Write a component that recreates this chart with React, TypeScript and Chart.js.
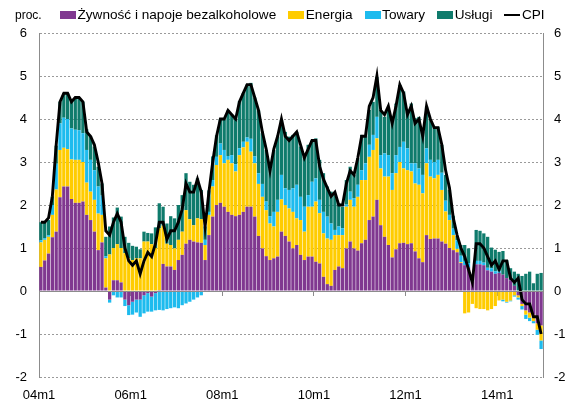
import { useEffect, useRef } from 'react';
import { Chart, registerables } from 'chart.js';

Chart.register(...registerables);

const FONT = '"Liberation Sans", Arial, sans-serif';

const MONTHS: string[] = [];
for (let y = 4; y <= 14; y++) {
  for (let m = 1; m <= 12; m++) MONTHS.push(`${String(y).padStart(2, '0')}m${m}`);
}

const SERIES_NAMES = ['Żywność i napoje bezalkoholowe', 'Energia', 'Towary', 'Usługi', 'CPI'];
const SERIES_COLORS = ['#803890', '#FFCC00', '#1DBBEE', '#0F7B6C', '#000000'];

const FOOD = [
  0.56, 0.71, 0.87, 1.25, 1.38, 2.18, 2.43, 2.43, 2.14, 2.05, 2.05, 2.08,
  1.77, 1.65, 1.38, 0.95, 1.13, 0.08, -0.2, 0.25, 0.25, 0.2, -0.2, -0.33,
  -0.25, -0.2, -0.2, -0.1, -0.05, -0.13, -0.05, 0.02, 0.63, 0.57, 0.57, 0.49,
  0.72, 0.84, 1.1, 1.19, 1.15, 1.13, 1.12, 0.72, 1.3, 1.73, 2.0, 2.05,
  1.96, 1.84, 1.77, 1.74, 1.77, 1.84, 1.96, 1.96, 1.73, 1.28, 0.99, 0.81,
  0.72, 0.76, 0.8, 1.38, 1.28, 1.15, 0.99, 1.07, 0.84, 0.72, 0.8, 0.8,
  0.68, 0.64, 0.33, 0.16, 0.12, 0.49, 0.57, 0.53, 0.99, 1.15, 0.99, 0.94,
  1.11, 1.19, 1.65, 1.73, 2.12, 1.53, 1.26, 1.07, 0.78, 0.97, 1.11, 1.12,
  1.09, 1.11, 0.92, 0.76, 0.67, 1.3, 1.21, 1.22, 1.22, 1.15, 1.1, 1.0,
  0.95, 0.9, 0.65, 0.6, 0.55, 0.22, 0.62, 0.62, 0.6, 0.48, 0.45, 0.4,
  0.42, 0.38, 0.3, 0.25, 0.12, -0.1, -0.3, -0.45, -0.5, -0.55, -0.75, -0.8,
];

const ENERGY = [
  0.57, 0.48, 0.39, 0.52, 0.98, 1.1, 0.9, 0.87, 0.92, 1.0, 1.0, 0.92,
  0.75, 0.66, 0.74, 0.85, 0.64, 0.68, 0.85, 0.75, 0.84, 0.8, 0.88, 0.76,
  0.72, 0.76, 0.76, 1.15, 1.15, 1.09, 1.0, 1.44, 0.89, 0.53, 0.5, 0.5,
  0.47, 0.54, 0.78, 0.48, 0.38, 0.56, 0.55, 0.35, 0.47, 0.7, 0.93, 1.11,
  1.01, 1.21, 1.2, 1.04, 1.39, 1.5, 1.51, 1.28, 1.24, 1.21, 1.2, 1.07,
  0.85, 0.74, 1.04, 0.75, 0.72, 0.77, 0.85, 0.62, 0.81, 0.66, 1.16, 1.16,
  1.4, 1.17, 1.01, 1.06, 1.07, 0.81, 0.73, 0.77, 0.97, 0.97, 0.97, 1.25,
  1.47, 1.39, 1.47, 1.55, 1.43, 1.32, 1.4, 1.59, 1.57, 1.77, 1.89, 1.73,
  1.72, 1.67, 1.58, 1.71, 1.6, 1.67, 1.45, 1.4, 1.48, 1.2, 0.75, 0.65,
  0.35, 0.08, 0.02, -0.52, -0.5, -0.3, -0.4, -0.42, -0.42, -0.45, -0.42, -0.35,
  -0.22, -0.2, -0.25, -0.22, -0.1, -0.05, -0.05, -0.1, -0.12, -0.15, -0.15, -0.35,
];

const GOODS = [
  0.05, 0.04, 0.04, 0.23, 0.6, 0.62, 0.7, 0.7, 0.72, 0.7, 0.69, 0.67,
  0.76, 0.74, 0.69, 0.63, 0.45, 0.05, -0.07, -0.1, -0.15, -0.15, -0.15, -0.23,
  -0.3, -0.3, -0.4, -0.42, -0.43, -0.35, -0.4, -0.44, -0.45, -0.42, -0.4, -0.38,
  -0.4, -0.33, -0.29, -0.25, -0.2, -0.15, -0.1, 0.12, 0.07, 0.15, 0.19, 0.27,
  0.31, 0.09, 0.19, 0.17, 0.16, 0.13, 0.1, 0.3, 0.16, 0.25, 0.3, 0.2,
  0.17, 0.34, 0.28, 0.57, 0.39, 0.43, 0.55, 0.78, 0.54, 0.58, 0.27, 0.58,
  0.54, 0.31, 0.5, 0.51, 0.38, 0.12, 0.2, 0.16, 0.05, 0.19, 0.2, 0.28,
  0.23, 0.39, 0.28, 0.35, 0.5, 0.31, 0.54, 0.5, 0.39, 0.42, 0.35, 0.62,
  0.51, 0.19, 0.47, 0.38, 0.43, 0.35, 0.39, 0.38, 0.35, 0.4, 0.25, 0.12,
  0.15, 0.2, 0.15, 0.1, 0.1, 0.05, 0.08, 0.08, 0.06, 0.06, 0.08, 0.06,
  0.04, -0.04, -0.02, -0.02, -0.03, -0.05, -0.08, -0.1, -0.08, -0.05, -0.12, -0.2,
];

const SERVICES = [
  0.42, 0.37, 0.35, 0.2, 0.42, 0.5, 0.57, 0.6, 0.62, 0.74, 0.74, 0.73,
  0.48, 0.55, 0.55, 0.46, 0.28, 0.45, 0.65, 0.71, 0.85, 0.73, 0.38, 0.36,
  0.33, 0.27, 0.21, 0.23, 0.2, 0.25, 0.48, 0.58, 0.44, 0.47, 0.67, 0.7,
  0.81, 0.85, 0.86, 0.87, 0.94, 0.93, 0.68, 0.31, 0.5, 0.55, 0.5, 0.57,
  0.7, 1.06, 0.94, 1.05, 1.1, 1.13, 1.23, 1.3, 1.37, 1.46, 1.18, 1.2,
  1.11, 1.44, 1.47, 1.28, 1.31, 1.24, 1.24, 1.23, 1.17, 1.16, 1.17, 0.96,
  0.93, 0.93, 0.9, 0.7, 0.74, 0.81, 0.54, 0.5, 0.57, 0.58, 0.54, 0.62,
  0.82, 0.63, 0.81, 0.77, 0.93, 1.05, 0.85, 1.05, 1.24, 1.2, 1.44, 1.17,
  0.85, 1.39, 1.05, 1.2, 1.0, 0.97, 0.93, 0.82, 0.77, 0.65, 0.6, 0.58,
  0.3, 0.1, 0.25, 0.37, 0.34, 0.05, 0.72, 0.7, 0.68, 0.72, 0.48, 0.5,
  0.45, 0.55, 0.42, 0.28, 0.33, 0.4, 0.35, 0.4, 0.45, 0.18, 0.4, 0.42,
];

const CPI = [
  1.6, 1.6, 1.7, 2.2, 3.4, 4.4, 4.6, 4.6, 4.4, 4.5, 4.5, 4.4,
  3.7, 3.6, 3.4, 3.0, 2.5, 1.4, 1.3, 1.6, 1.8, 1.6, 1.0, 0.7,
  0.6, 0.7, 0.4, 0.7, 0.9, 0.8, 1.1, 1.6, 1.6, 1.2, 1.4, 1.4,
  1.6, 1.9, 2.5, 2.3, 2.3, 2.6, 2.3, 1.5, 2.3, 3.0, 3.6, 4.0,
  4.0, 4.2, 4.1, 4.0, 4.4, 4.6, 4.8, 4.8, 4.5, 4.2, 3.7, 3.3,
  2.8, 3.3, 3.6, 4.0, 3.6, 3.5, 3.6, 3.7, 3.4, 3.1, 3.3, 3.5,
  3.5, 2.9, 2.6, 2.4, 2.2, 2.3, 2.0, 2.0, 2.5, 2.8, 2.7, 3.1,
  3.6, 3.6, 4.3, 4.5, 5.0, 4.2, 4.1, 4.3, 3.9, 4.3, 4.8, 4.6,
  4.1, 4.3, 3.9, 4.0, 3.6, 4.3, 4.0, 3.8, 3.8, 3.4, 2.8, 2.4,
  1.7, 1.3, 1.0, 0.8, 0.5, 0.2, 1.1, 1.1, 1.0, 0.8, 0.6, 0.7,
  0.5, 0.7, 0.7, 0.3, 0.2, 0.3, -0.2, -0.3, -0.3, -0.6, -0.6, -1.0,
];

const Y_MIN = -2;
const Y_MAX = 6;
const LABEL_EVERY = 24;

export default function App() {
  const ref = useRef<HTMLCanvasElement | null>(null);

  useEffect(() => {
    if (!ref.current) return;
    const barSeries = [FOOD, ENERGY, GOODS, SERVICES];
    const chart = new Chart(ref.current, {
      type: 'bar',
      data: {
        labels: MONTHS,
        datasets: [
          ...barSeries.map((arr, i) => ({
            type: 'bar' as const,
            label: SERIES_NAMES[i],
            data: arr,
            backgroundColor: SERIES_COLORS[i],
            borderWidth: 0,
            barPercentage: 1,
            categoryPercentage: 0.86,
            order: 1,
            xAxisID: 'x',
            yAxisID: 'y',
          })),
          {
            type: 'line' as const,
            label: SERIES_NAMES[4],
            data: CPI,
            borderColor: SERIES_COLORS[4],
            backgroundColor: SERIES_COLORS[4],
            borderWidth: 2.9,
            pointRadius: 0,
            tension: 0,
            order: 0,
            xAxisID: 'x',
            yAxisID: 'y',
          },
        ],
      },
      options: {
        animation: false,
        responsive: false,
        maintainAspectRatio: false,
        layout: { padding: { top: 33, left: 0, right: 0, bottom: 0 } },
        plugins: { legend: { display: false }, tooltip: { enabled: false }, title: { display: false } },
        scales: {
          x: {
            type: 'category',
            position: 'bottom',
            stacked: true,
            offset: true,
            grid: { display: false, drawTicks: false, offset: true },
            border: { display: false },
            ticks: {
              autoSkip: false,
              maxRotation: 0,
              minRotation: 0,
              padding: 11,
              labelOffset: -1.9,
              color: '#000',
              font: { family: FONT, size: 13 },
              callback: (_v: any, i: number) => (i % LABEL_EVERY === 0 ? MONTHS[i] : ''),
            },
            afterFit: (s: any) => {
              s.height = 30;
            },
          },
          x0: {
            type: 'category',
            position: { y: 0 },
            offset: true,
            grid: {
              drawOnChartArea: false,
              drawTicks: true,
              offset: true,
              tickLength: 4,
              tickWidth: 1,
              tickColor: (c: any) => (c.index % LABEL_EVERY === 0 ? '#8c8c8c' : 'rgba(0,0,0,0)'),
            },
            border: { display: true, color: '#8c8c8c', width: 1, z: 1 },
            ticks: { display: false, autoSkip: false },
          },
          y: {
            type: 'linear',
            position: 'left',
            stacked: true,
            min: Y_MIN,
            max: Y_MAX,
            ticks: {
              stepSize: 1,
              padding: 12,
              color: '#000',
              font: { family: FONT, size: 13 },
            },
            grid: {
              drawTicks: false,
              lineWidth: 1,
              color: (c: any) => (c.tick && c.tick.value === 0 ? '#8c8c8c' : '#9a9a9a'),
            },
            border: {
              display: true,
              color: '#8c8c8c',
              width: 1,
              dash: (c: any) => (c.tick && c.tick.value === 0 ? [] : [2, 2]),
            },
            afterFit: (s: any) => {
              s.width = 39;
            },
          },
          y2: {
            type: 'linear',
            position: 'right',
            min: Y_MIN,
            max: Y_MAX,
            ticks: {
              stepSize: 1,
              padding: 11,
              color: '#000',
              font: { family: FONT, size: 13 },
            },
            grid: { drawOnChartArea: false, drawTicks: false },
            border: { display: true, color: '#8c8c8c', width: 1 },
            afterFit: (s: any) => {
              s.width = 35;
            },
          },
        },
      },
    } as any);
    return () => chart.destroy();
  }, []);

  return (
    <div
      style={{
        position: 'fixed',
        left: 0,
        top: 0,
        width: 578,
        height: 407,
        background: '#fff',
        fontFamily: FONT,
        color: '#000',
      }}
    >
      <canvas ref={ref} width={578} height={407} style={{ position: 'absolute', left: 0, top: 0, display: 'block' }} />
      <div style={{ position: 'absolute', left: 15, top: 7, fontSize: 12, lineHeight: '16px' }}>proc.</div>
      <div
        style={{
          position: 'absolute',
          left: 60,
          top: 6,
          display: 'flex',
          alignItems: 'center',
          fontSize: 13.6,
          lineHeight: '18px',
          whiteSpace: 'nowrap',
        }}
      >
        {SERIES_NAMES.map((name, i) => (
          <span key={name} style={{ display: 'inline-flex', alignItems: 'center', marginRight: 12 }}>
            <span
              style={{
                display: 'inline-block',
                width: 16,
                height: i === 4 ? 2 : 8,
                background: SERIES_COLORS[i],
                marginRight: 1.5,
              }}
            />
            <span>{name}</span>
          </span>
        ))}
      </div>
    </div>
  );
}
